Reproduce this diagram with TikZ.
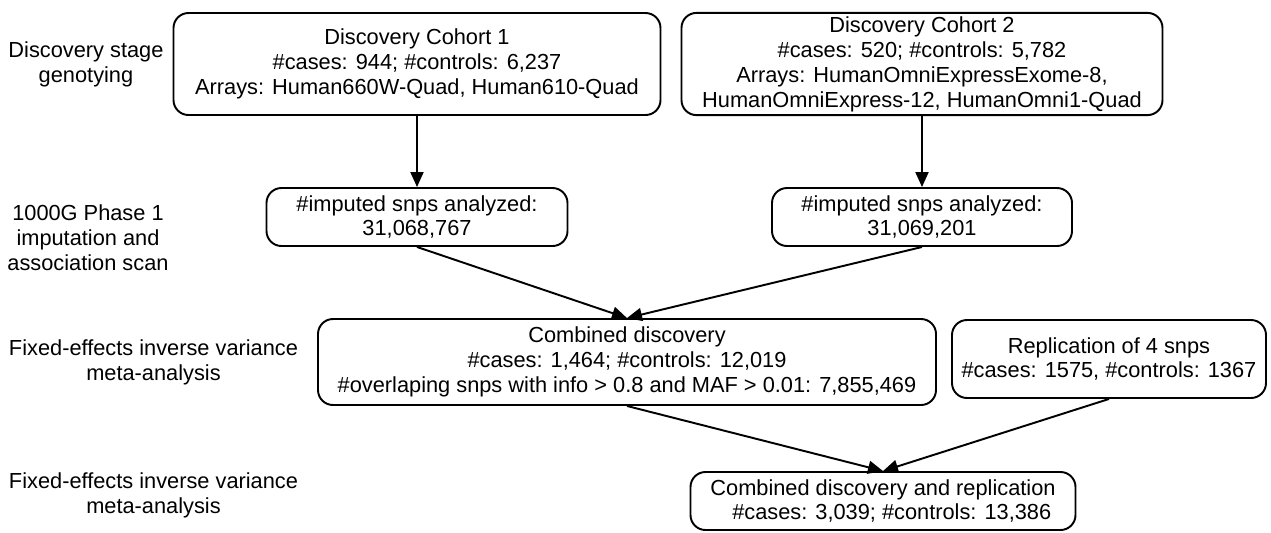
\documentclass[tikz,border=0pt]{standalone}
\usepackage{fontspec}
\setmainfont{Liberation Sans}
\usetikzlibrary{arrows.meta}

\begin{document}
\begin{tikzpicture}[
	box/.style={draw, line width=1.1pt, rounded corners=0.3cm, align=center, inner sep=2pt, font=\fontsize{12.4}{14.2}\selectfont},
	lbl/.style={align=center, font=\fontsize{12.4}{14.2}\selectfont},
	conn/.style={line width=1.1pt, -{Triangle[length=0.3cm,width=0.26cm]}}]

	\useasboundingbox (0,0) rectangle (25.42,-10.64);

	\node[lbl] (stagegeno) at (1.72,-1.28) {Discovery stage\\genotying};
	\node[lbl] (stageimp) at (1.76,-4.76) {1000G Phase 1\\imputation and\\association scan};
	\node[lbl] (stagemeta) at (3.07,-7.24) {Fixed-effects inverse variance\\meta-analysis};
	\node[lbl] (stagefinal) at (3.07,-9.9) {Fixed-effects inverse variance\\meta-analysis};

	\node[box, minimum width=9.74cm, minimum height=2.04cm] (cohortA) at (8.34,-1.28) {Discovery Cohort 1\\\#cases: 944; \#controls: 6,237\\Arrays: Human660W-Quad, Human610-Quad};
	\node[box, minimum width=9.62cm, minimum height=2.04cm] (cohortB) at (18.44,-1.28) {Discovery Cohort 2\\\#cases: 520; \#controls: 5,782\\Arrays: HumanOmniExpressExome-8,\\HumanOmniExpress-12, HumanOmni1-Quad};

	\node[box, minimum width=6.02cm, minimum height=1.16cm] (imputedA) at (8.34,-4.34) {\#imputed snps analyzed:\\31,068,767};
	\node[box, minimum width=6.0cm, minimum height=1.16cm] (imputedB) at (18.44,-4.34) {\#imputed snps analyzed:\\31,069,201};

	\node[box, minimum width=12.36cm, minimum height=1.72cm] (combined) at (12.54,-7.24) {Combined discovery\\\#cases: 1,464; \#controls: 12,019\\\#overlaping snps with info > 0.8 and MAF > 0.01: 7,855,469};
	\node[box, minimum width=6.28cm, minimum height=1.56cm] (replication) at (22.18,-7.18) {Replication of 4 snps\\\#cases: 1575, \#controls: 1367};

	\node[box, minimum width=7.7cm, minimum height=1.16cm] (final) at (17.66,-10.02) {Combined discovery and replication\\\hspace*{0.35cm}\#cases: 3,039; \#controls: 13,386};

	\draw[conn] (cohortA) -- (imputedA);
	\draw[conn] (cohortB) -- (imputedB);
	\draw[conn] (imputedA.south) -- (combined.north);
	\draw[conn] (imputedB.south) -- (combined.north);
	\draw[conn] (combined.south) -- (final.north);
	\draw[conn] (replication.south) -- (final.north);

\end{tikzpicture}
\end{document}
